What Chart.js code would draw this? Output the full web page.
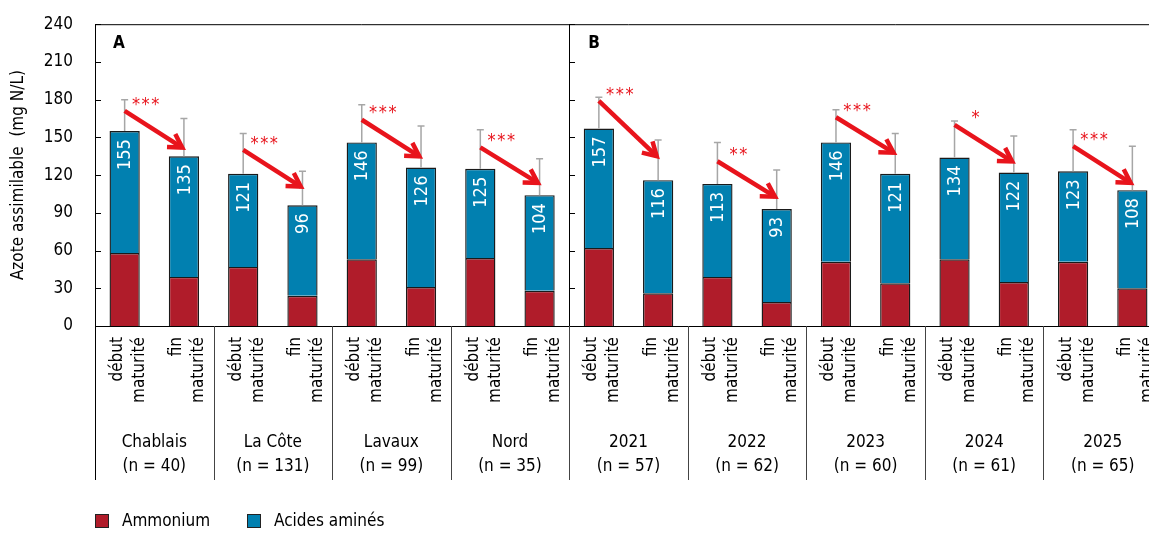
<!DOCTYPE html>
<html lang="fr">
<head>
<meta charset="utf-8">
<title>Azote assimilable</title>
<script src="https://cdn.jsdelivr.net/npm/chart.js@4.4.1/dist/chart.umd.min.js"></script>
<style>
  html, body { margin: 0; padding: 0; background: #fff; overflow: hidden; }
  #wrap { position: relative; width: 1175px; height: 533px; }
</style>
</head>
<body>
<div id="wrap"><canvas id="chart"></canvas></div>
<script>
const FONT = '"DejaVu Sans Condensed", "Liberation Sans Narrow", "DejaVu Sans", sans-serif';

// groups shown under the axis, two bars each (début / fin maturité)
const groups = ['Chablais', 'La Côte', 'Lavaux', 'Nord', '2021', '2022', '2023', '2024', '2025'];
const groupN = [40, 131, 99, 35, 57, 62, 60, 61, 65];
const stages = [['début', 'maturité'], ['fin', 'maturité']];
const panels = ['A', 'B'];
const panelGroups = [4, 5];

// mg N/L, one value per bar
const totals   = [155, 135, 121, 96, 146, 126, 125, 104, 157, 116, 113, 93, 146, 121, 134, 122, 123, 108];
const ammonium = [58, 39, 47, 24, 53, 31, 54, 28, 62, 26, 39, 19, 51, 34, 53, 35, 51, 30];
const errUpper = [180, 165, 153, 123, 176, 159, 156, 133, 182, 148, 146, 124, 172, 153, 163, 151, 156, 143];

// red arrows début -> fin (values on the y axis) and significance
const arrowFrom = [171, 140, 164, 142, 179, 131, 166, 160, 143];
const arrowTo   = [141, 110, 134, 113, 134, 102, 137, 130, 113];
const signif    = ['***', '***', '***', '***', '***', '**', '***', '*', '***'];

const yTicks = [0, 30, 60, 90, 120, 150, 180, 210, 240];

const RED = '#B01C2A';
const BLUE = '#0180B0';
const ARROW = '#E8141C';

const labels = [];
groups.forEach(g => stages.forEach(s => labels.push(g + ' ' + s.join(' '))));
const amino = totals.map((t, i) => t - ammonium[i]);

function drawArrow(ctx, x1, y1, x2, y2) {
    const ang = Math.atan2(y2 - y1, x2 - x1);
    const head = 17, spread = 0.47;
    ctx.save();
    ctx.strokeStyle = ARROW;
    ctx.lineWidth = 4.5;
    ctx.lineCap = 'butt';
    ctx.beginPath();
    ctx.moveTo(x1, y1);
    ctx.lineTo(x2 - Math.cos(ang) * 2, y2 - Math.sin(ang) * 2);
    ctx.stroke();
    ctx.lineJoin = 'miter';
    ctx.beginPath();
    ctx.moveTo(x2 - head * Math.cos(ang - spread), y2 - head * Math.sin(ang - spread));
    ctx.lineTo(x2 - Math.cos(ang) * 2, y2 - Math.sin(ang) * 2);
    ctx.lineTo(x2 - head * Math.cos(ang + spread), y2 - head * Math.sin(ang + spread));
    ctx.stroke();
    ctx.restore();
}

const decorations = {
    id: 'decorations',
    afterDatasetsDraw(chart) {
        const ctx = chart.ctx;
        const y = chart.scales.y;
        const bars = chart.getDatasetMeta(1).data;

        // error bars (upper only)
        ctx.save();
        ctx.strokeStyle = '#A6A6A6';
        ctx.lineWidth = 1.5;
        bars.forEach((b, i) => {
            const top = y.getPixelForValue(errUpper[i]);
            ctx.beginPath();
            ctx.moveTo(b.x, b.y);
            ctx.lineTo(b.x, top);
            ctx.moveTo(b.x - 3.5, top);
            ctx.lineTo(b.x + 3.5, top);
            ctx.stroke();
        });
        ctx.restore();

        // totals written inside the blue part
        ctx.save();
        ctx.fillStyle = '#fff';
        ctx.font = '18px ' + FONT;
        ctx.textAlign = 'right';
        ctx.textBaseline = 'middle';
        bars.forEach((b, i) => {
            ctx.save();
            ctx.translate(b.x + 1, b.y + 8);
            ctx.rotate(-Math.PI / 2);
            ctx.fillText(String(totals[i]), 0, 0);
            ctx.restore();
        });
        ctx.restore();

        // arrows and stars
        groups.forEach((g, k) => {
            const a = bars[2 * k], f = bars[2 * k + 1];
            const y1 = y.getPixelForValue(arrowFrom[k]);
            const y2 = y.getPixelForValue(arrowTo[k]);
            drawArrow(ctx, a.x, y1, f.x, y2);
            ctx.save();
            ctx.fillStyle = ARROW;
            ctx.font = '18px ' + FONT;
            ctx.textAlign = 'center';
            ctx.textBaseline = 'top';
            ctx.fillText(signif[k].split('').join('\u200A'), a.x + 21, y1 - 15);
            ctx.restore();
        });
    },
    afterDraw(chart) {
        const ctx = chart.ctx;
        const area = chart.chartArea;
        const y = chart.scales.y;
        const bars = chart.getDatasetMeta(1).data;
        const slot = bars[1].x - bars[0].x;
        const bottom = 480;

        const panelX = (bars[2 * panelGroups[0] - 1].x + bars[2 * panelGroups[0]].x) / 2;

        ctx.save();
        ctx.strokeStyle = '#000';
        ctx.lineWidth = 1;
        // frame: top line, left axis down to the labels, panel divider
        ctx.beginPath();
        ctx.moveTo(area.left, area.top + 0.5);
        ctx.lineTo(area.right, area.top + 0.5);
        ctx.moveTo(Math.round(area.left) + 0.5, area.top);
        ctx.lineTo(Math.round(area.left) + 0.5, bottom);
        ctx.moveTo(Math.round(panelX) + 0.5, area.top);
        ctx.lineTo(Math.round(panelX) + 0.5, bottom);
        ctx.stroke();

        // inward ticks on both panels
        ctx.beginPath();
        yTicks.forEach(v => {
            const py = Math.round(y.getPixelForValue(v)) + 0.5;
            [area.left, panelX].forEach(x0 => {
                ctx.moveTo(Math.round(x0), py);
                ctx.lineTo(Math.round(x0) + 6, py);
            });
        });
        ctx.stroke();

        // group separators below the axis
        ctx.strokeStyle = '#444';
        ctx.beginPath();
        for (let k = 1; k <= groups.length; k++) {
            const sx = Math.round(bars[2 * k - 1].x + slot / 2) + 0.5;
            ctx.moveTo(sx, area.bottom);
            ctx.lineTo(sx, bottom);
        }
        ctx.stroke();
        ctx.restore();

        // stage labels, rotated
        ctx.save();
        ctx.fillStyle = '#000';
        ctx.font = '17px ' + FONT;
        ctx.textAlign = 'right';
        ctx.textBaseline = 'alphabetic';
        bars.forEach((b, i) => {
            const lines = stages[i % 2];
            ctx.save();
            ctx.translate(b.x, area.bottom + 11);
            ctx.rotate(-Math.PI / 2);
            ctx.fillText(lines[0], 0, -2.5);
            ctx.fillText(lines[1], 0, 19.5);
            ctx.restore();
        });

        // group names and sample sizes
        ctx.textAlign = 'center';
        ctx.textBaseline = 'middle';
        groups.forEach((g, k) => {
            const cx = (bars[2 * k].x + bars[2 * k + 1].x) / 2;
            ctx.fillText(g, cx, 443);
            ctx.fillText('(n = ' + groupN[k] + ')', cx, 467);
        });

        // panel letters
        ctx.font = 'bold 17px ' + FONT;
        ctx.textAlign = 'left';
        ctx.textBaseline = 'top';
        ctx.fillText(panels[0], area.left + 18, 35);
        ctx.fillText(panels[1], panelX + 19, 35);

        // legend
        ctx.font = '17px ' + FONT;
        ctx.textBaseline = 'middle';
        let lx = area.left;
        chart.data.datasets.forEach((ds, i) => {
            ctx.fillStyle = ds.backgroundColor;
            ctx.fillRect(lx, 514, 14, 14);
            ctx.strokeStyle = '#222';
            ctx.strokeRect(lx + 0.5, 514.5, 13, 13);
            ctx.fillStyle = '#000';
            ctx.fillText(ds.label, lx + 27, 522);
            lx += i === 0 ? 152 : 0;
        });
        ctx.restore();
    }
};

new Chart(document.getElementById('chart'), {
    type: 'bar',
    data: {
        labels: labels,
        datasets: [
            { label: 'Ammonium', data: ammonium, backgroundColor: RED, borderColor: '#1a1a1a', borderWidth: 1.4 },
            { label: 'Acides aminés', data: amino, backgroundColor: BLUE, borderColor: '#1a1a1a', borderWidth: 1.4 }
        ]
    },
    options: {
        responsive: true,
        maintainAspectRatio: false,
        animation: false,
        layout: { padding: { top: 19, right: 13, left: 0, bottom: 0 } },
        datasets: { bar: { categoryPercentage: 1, barPercentage: 0.51 } },
        plugins: {
            legend: { display: false },
            tooltip: { enabled: false }
        },
        scales: {
            x: {
                stacked: true,
                grid: { display: false },
                border: { display: true, color: '#000', width: 1 },
                ticks: { display: false },
                afterFit: scale => { scale.height = 207; }
            },
            y: {
                stacked: true,
                min: 0,
                max: 240,
                afterBuildTicks: scale => { scale.ticks = yTicks.map(v => ({ value: v })); },
                grid: { display: false },
                border: { display: true, color: '#000', width: 1 },
                ticks: {
                    color: '#000',
                    padding: 14,
                    font: { family: FONT, size: 17 }
                },
                title: {
                    display: true,
                    text: 'Azote assimilable  (mg N/L)',
                    color: '#000',
                    padding: { top: 8, bottom: 0 },
                    font: { family: FONT, size: 17 }
                },
                afterFit: scale => { scale.width = 95; }
            }
        }
    },
    plugins: [decorations]
});
</script>
</body>
</html>
